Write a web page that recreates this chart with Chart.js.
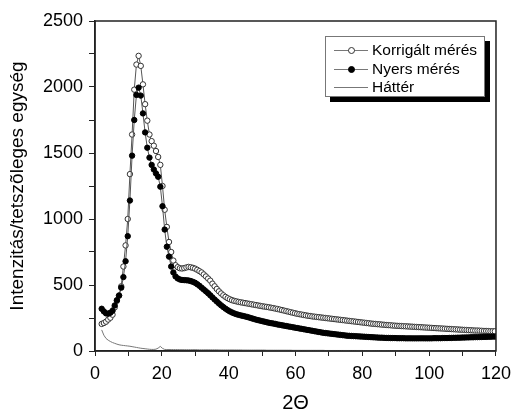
<!DOCTYPE html>
<html>
<head>
<meta charset="utf-8">
<script src="https://cdn.jsdelivr.net/npm/chart.js@4/dist/chart.umd.min.js"></script>
<style>
  body { margin: 0; background: #fff; }
  #wrap { position: relative; width: 518px; height: 409px; }
  #legend {
    position: absolute; left: 325px; top: 36px; width: 160px; height: 61px;
    border: 1px solid #777; background: #fff; box-shadow: 5px 5px 0 #000;
    font-family: "Liberation Sans", Arial, sans-serif; font-size: 15.5px; color: #000;
    box-sizing: border-box; padding-top: 4px;
  }
  .row { height: 18.5px; line-height: 18.5px; white-space: nowrap; }
  .smp { display: inline-block; position: relative; width: 34px; height: 18px; margin-left: 8px; margin-right: 4px; vertical-align: top; }
  .smp:before { content: ""; position: absolute; left: 0; right: 0; top: 9px; border-top: 1px solid #777; }
  .dot { position: absolute; left: 14px; top: 6px; width: 5px; height: 5px; border-radius: 50%; border: 1px solid #333; background: #fff; }
  .dot.f { background: #000; border-color: #000; }
</style>
</head>
<body>
<div id="wrap">
  <canvas id="chart" width="518" height="409"></canvas>
  <div id="legend">
    <div class="row"><span class="smp"><span class="dot"></span></span>Korrigált mérés</div>
    <div class="row"><span class="smp"><span class="dot f"></span></span>Nyers mérés</div>
    <div class="row"><span class="smp"></span>Háttér</div>
  </div>
</div>
<script>
// 2Θ értékek
const ketTheta = [
  2, 2.65, 3.3, 3.95, 4.6, 5.25, 5.9, 6.55, 7.2, 7.85,
  8.5, 9.15, 9.8, 10.45, 11.1, 11.75, 12.4, 13.05, 13.7, 14.35,
  15, 15.65, 16.3, 16.95, 17.6, 18.25, 18.9, 19.55, 20.2, 20.85,
  21.5, 22.15, 22.8, 23.45, 24.1, 24.75, 25.4, 26.05, 26.7, 27.35,
  28, 28.65, 29.3, 29.95, 30.6, 31.25, 31.9, 32.55, 33.2, 33.85,
  34.5, 35.15, 35.8, 36.45, 37.1, 37.75, 38.4, 39.05, 39.7, 40.35,
  41, 41.65, 42.3, 42.95, 43.6, 44.25, 44.9, 45.55, 46.2, 46.85,
  47.5, 48.15, 48.8, 49.45, 50.1, 50.75, 51.4, 52.05, 52.7, 53.35,
  54, 54.65, 55.3, 55.95, 56.6, 57.25, 57.9, 58.55, 59.2, 59.85,
  60.5, 61.15, 61.8, 62.45, 63.1, 63.75, 64.4, 65.05, 65.7, 66.35,
  67, 67.65, 68.3, 68.95, 69.6, 70.25, 70.9, 71.55, 72.2, 72.85,
  73.5, 74.15, 74.8, 75.45, 76.1, 76.75, 77.4, 78.05, 78.7, 79.35,
  80, 80.65, 81.3, 81.95, 82.6, 83.25, 83.9, 84.55, 85.2, 85.85,
  86.5, 87.15, 87.8, 88.45, 89.1, 89.75, 90.4, 91.05, 91.7, 92.35,
  93, 93.65, 94.3, 94.95, 95.6, 96.25, 96.9, 97.55, 98.2, 98.85,
  99.5, 100.15, 100.8, 101.45, 102.1, 102.75, 103.4, 104.05, 104.7, 105.35,
  106, 106.65, 107.3, 107.95, 108.6, 109.25, 109.9, 110.55, 111.2, 111.85,
  112.5, 113.15, 113.8, 114.45, 115.1, 115.75, 116.4, 117.05, 117.7, 118.35,
  119, 119.65
];

const korrigalt = [
  205, 212, 222, 238, 252, 275, 330, 380, 420, 490,
  640, 800, 1000, 1340, 1640, 1980, 2170, 2236, 2160, 2020,
  1870, 1745, 1640, 1590, 1555, 1515, 1470, 1410, 1250, 1070,
  940, 826, 750, 685, 650, 635, 627, 625, 628, 633,
  637, 634, 630, 624, 615, 605, 595, 580, 565, 549,
  533, 510, 490, 470, 452, 436, 422, 410, 400, 392,
  385, 380, 376, 372, 369, 366, 363, 360, 357, 354,
  351, 348, 345, 342, 339, 336, 334, 331, 328, 325,
  321, 318, 314, 310, 306, 302, 298, 294, 290, 286,
  282, 279, 276, 273, 270, 267, 265, 262, 260, 258,
  256, 254, 252, 250, 248, 246, 244, 242, 240, 238,
  236, 234, 232, 230, 228, 226, 224, 222, 220, 218,
  216, 214, 212, 210, 208, 206, 205, 203, 202, 200,
  199, 197, 196, 195, 193, 192, 191, 190, 189, 188,
  187, 186, 185, 184, 183, 182, 181, 180, 179, 178,
  177, 176, 175, 174, 173, 172, 171, 170, 169, 168,
  167, 166, 165, 164, 163, 162, 161, 160, 159, 158,
  157, 156, 155, 155, 154, 153, 152, 152, 151, 150,
  150, 149
];

const nyers = [
  320, 300, 285, 283, 290, 305, 345, 385, 420, 480,
  560, 680, 870, 1140, 1480, 1750, 1940, 1995, 1935, 1800,
  1656, 1540, 1465, 1410, 1375, 1345, 1320, 1245, 1097, 920,
  790, 715, 640, 595, 565, 550, 542, 538, 537, 536,
  534, 530, 524, 517, 506, 494, 480, 466, 452, 438,
  422, 406, 390, 375, 360, 346, 333, 321, 310, 300,
  292, 285, 279, 274, 270, 266, 262, 258, 253, 248,
  243, 238, 234, 230, 226, 222, 218, 214, 211, 208,
  205, 201, 198, 195, 192, 189, 186, 183, 180, 177,
  174, 171, 168, 165, 162, 159, 156, 153, 150, 147,
  144, 141, 138, 136, 134, 132, 130, 128, 126, 124,
  122, 120, 118, 116, 115, 114, 113, 112, 111, 110,
  109, 108, 107, 106, 105, 104, 103, 102, 101, 101,
  100, 99, 99, 98, 98, 98, 97, 97, 97, 97,
  96, 96, 96, 96, 96, 96, 96, 96, 96, 96,
  96, 96, 96, 97, 97, 97, 97, 98, 98, 98,
  99, 99, 100, 100, 101, 101, 102, 102, 103, 103,
  104, 104, 105, 105, 106, 106, 107, 107, 108, 108,
  109, 109
];

const hatter = [
  160, 120, 95, 82, 72, 64, 58, 52, 47, 44,
  42, 40, 38, 36, 33, 30, 27, 24, 21, 19,
  17, 15, 13, 12, 12, 14, 22, 35, 20, 12,
  11, 11, 11, 11, 11, 11, 10, 10, 10, 10,
  10, 10, 10, 10, 10, 9, 9, 9, 9, 9,
  9, 9, 9, 9, 8, 8, 8, 8, 8, 8,
  8, 8, 8, 8, 8, 7, 7, 7, 7, 7,
  7, 7, 7, 7, 7, 7, 6, 6, 6, 6,
  6, 6, 6, 6, 6, 6, 6, 6, 5, 5,
  5, 5, 5, 5, 5, 5, 5, 5, 5, 5,
  5, 5, 5, 4, 4, 4, 4, 4, 4, 4,
  4, 4, 4, 4, 4, 4, 4, 4, 4, 4,
  4, 3, 3, 3, 3, 3, 3, 3, 3, 3,
  3, 3, 3, 3, 3, 2, 2, 2, 2, 2,
  2, 2, 2, 2, 2, 2, 2, 2, 2, 2,
  2, 2, 2, 2, 2, 2, 1, 1, 1, 1,
  1, 1, 1, 1, 1, 1, 1, 1, 1, 1,
  1, 1, 1, 1, 1, 1, 1, 1, 1, 1,
  1, 1
];

const FONT = "'Liberation Sans', Arial, sans-serif";

function pontok(ys) {
  return ketTheta.map((x, i) => ({ x: x, y: ys[i] }));
}

// keret a rajzterület körül (felső és jobb oldal is)
const keret = {
  id: 'keret',
  afterDraw(chart) {
    const { ctx, chartArea: a } = chart;
    ctx.save();
    ctx.strokeStyle = '#222';
    ctx.lineWidth = 1.5;
    ctx.strokeRect(a.left, a.top, a.right - a.left, a.bottom - a.top);
    ctx.restore();
  }
};

new Chart(document.getElementById('chart'), {
  type: 'line',
  data: {
    datasets: [
      {
        label: 'Nyers mérés', data: pontok(nyers), order: 1,
        borderColor: '#555', borderWidth: 1,
        pointRadius: 2.7, pointBorderWidth: 1,
        pointBackgroundColor: '#000', pointBorderColor: '#000'
      },
      {
        label: 'Korrigált mérés', data: pontok(korrigalt), order: 2,
        borderColor: '#555', borderWidth: 1,
        pointRadius: 2.7, pointBorderWidth: 1,
        pointBackgroundColor: '#fff', pointBorderColor: '#333'
      },
      {
        label: 'Háttér', data: pontok(hatter), order: 3,
        borderColor: '#777', borderWidth: 1, pointRadius: 0
      }
    ]
  },
  options: {
    responsive: false,
    animation: false,
    layout: { padding: { top: 21, right: 15, left: 0, bottom: 0 } },
    plugins: { legend: { display: false }, tooltip: { enabled: false } },
    scales: {
      x: {
        type: 'linear', min: 0, max: 120,
        afterFit: s => { s.height = 58; },
        border: { color: '#222', width: 1.5 },
        grid: { drawOnChartArea: false, drawTicks: true, tickLength: 5, color: '#222' },
        ticks: {
          stepSize: 10, autoSkip: false, maxRotation: 0, padding: 7, color: '#000',
          font: { family: FONT, size: 18 },
          callback: v => (v % 20 === 0 ? v : '')
        },
        title: { display: true, text: '2Θ', color: '#000', padding: 0, font: { family: FONT, size: 20, lineHeight: 0.6 } }
      },
      y: {
        min: 0, max: 2500,
        afterFit: s => { s.width = 95; },
        border: { color: '#222', width: 1.5 },
        grid: { drawOnChartArea: false, drawTicks: true, tickLength: 6, color: '#222' },
        ticks: {
          stepSize: 250, autoSkip: false, padding: 6, color: '#000',
          font: { family: FONT, size: 18 },
          callback: v => (v % 500 === 0 ? v : '')
        },
        title: { display: true, text: 'Intenzitás/tetszõleges egység', color: '#000', padding: 6, font: { family: FONT, size: 19 } }
      }
    }
  },
  plugins: [keret]
});
</script>
</body>
</html>
